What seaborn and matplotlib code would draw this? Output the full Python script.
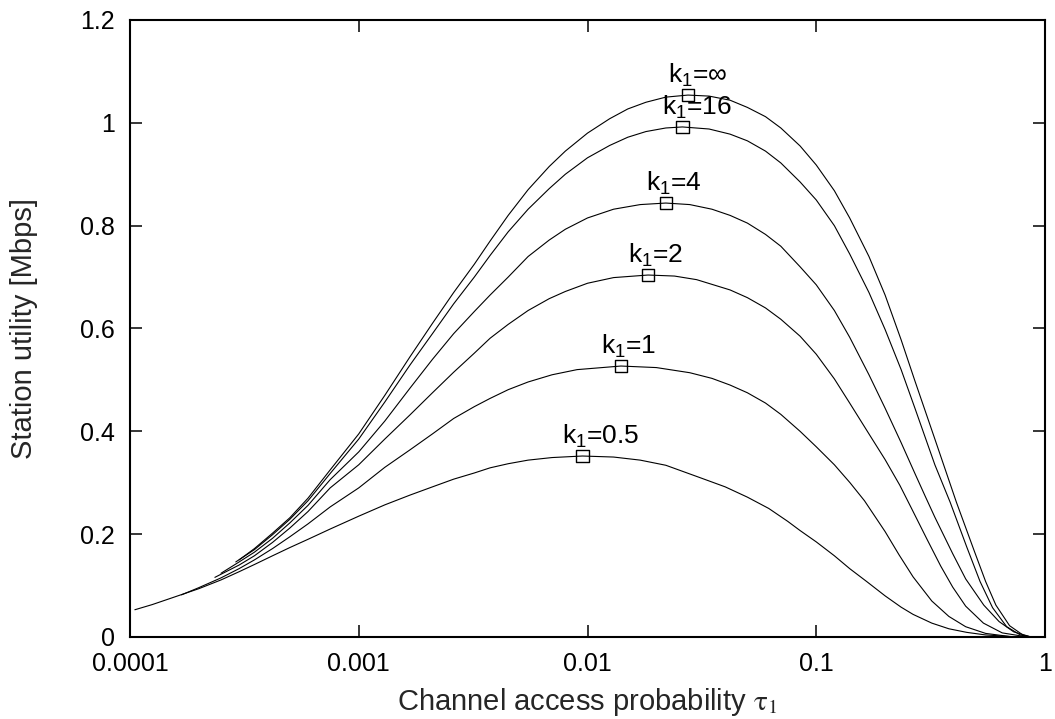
import numpy as np
import pandas as pd
import matplotlib
matplotlib.use("Agg")
import matplotlib.pyplot as plt
import seaborn as sns

# ---------------- data ----------------
k_labels = ["k$_1$=∞", "k$_1$=16", "k$_1$=4", "k$_1$=2", "k$_1$=1", "k$_1$=0.5"]

tau_kinf = [3.0e-4, 3.5e-4, 4.2e-4, 5e-4, 6e-4, 7.5e-4, 1e-3, 1.3e-3, 1.675e-3, 2.1e-3,
            2.6e-3, 3.2e-3, 3.75e-3, 4.5e-3, 5.5e-3, 6.8e-3, 8e-3, 1e-2, 1.25e-2, 1.5e-2,
            1.8e-2, 2.2e-2, 2.75e-2, 3.4e-2, 4.2e-2, 5e-2, 6e-2, 7e-2, 8.5e-2, 0.1,
            0.12, 0.14, 0.17, 0.2, 0.235, 0.27, 0.33, 0.41, 0.49, 0.55, 0.61, 0.7, 0.8, 0.87]
util_kinf = [0.150, 0.172, 0.202, 0.232, 0.270, 0.325, 0.395, 0.47, 0.545, 0.61,
             0.67, 0.725, 0.77, 0.82, 0.87, 0.915, 0.945, 0.98, 1.008, 1.027,
             1.04, 1.05, 1.054, 1.052, 1.044, 1.03, 1.012, 0.99, 0.955, 0.918,
             0.868, 0.815, 0.74, 0.665, 0.578, 0.498, 0.385, 0.262, 0.168, 0.108, 0.062, 0.022, 0.004, 0.0]

tau_k16 = [2.9e-4, 3.5e-4, 4.2e-4, 5e-4, 6e-4, 7.5e-4, 1e-3, 1.3e-3, 1.675e-3, 2.1e-3,
           2.6e-3, 3.2e-3, 3.75e-3, 4.5e-3, 5.5e-3, 6.8e-3, 8e-3, 1e-2, 1.25e-2, 1.5e-2,
           1.8e-2, 2.2e-2, 2.6e-2, 3.4e-2, 4.2e-2, 5e-2, 6e-2, 7e-2, 8.5e-2, 0.1,
           0.12, 0.14, 0.17, 0.2, 0.235, 0.27, 0.33, 0.385, 0.455, 0.52, 0.59, 0.68, 0.78, 0.86]
util_k16 = [0.146, 0.170, 0.199, 0.229, 0.265, 0.318, 0.385, 0.457, 0.529, 0.59,
            0.648, 0.70, 0.742, 0.788, 0.832, 0.872, 0.90, 0.932, 0.956, 0.972,
            0.983, 0.99, 0.992, 0.988, 0.978, 0.965, 0.945, 0.922, 0.885, 0.85,
            0.80, 0.745, 0.67, 0.598, 0.52, 0.445, 0.335, 0.262, 0.175, 0.108, 0.057, 0.02, 0.004, 0.0]

tau_k4 = [2.5e-4, 3e-4, 3.5e-4, 4.2e-4, 5e-4, 6e-4, 7.5e-4, 1e-3, 1.3e-3, 1.675e-3,
          2.1e-3, 2.6e-3, 3.2e-3, 3.75e-3, 4.5e-3, 5.5e-3, 6.8e-3, 8e-3, 1e-2, 1.3e-2,
          1.7e-2, 2.2e-2, 2.8e-2, 3.5e-2, 4.2e-2, 5e-2, 6e-2, 7e-2, 8.5e-2, 0.1,
          0.12, 0.14, 0.17, 0.2, 0.235, 0.27, 0.30, 0.33, 0.395, 0.45, 0.54, 0.63, 0.73, 0.87]
util_k4 = [0.124, 0.146, 0.165, 0.192, 0.222, 0.256, 0.306, 0.36, 0.42, 0.484,
           0.54, 0.59, 0.633, 0.665, 0.70, 0.74, 0.772, 0.793, 0.815, 0.832,
           0.841, 0.844, 0.841, 0.832, 0.82, 0.805, 0.783, 0.76, 0.72, 0.685,
           0.635, 0.583, 0.51, 0.445, 0.378, 0.318, 0.273, 0.233, 0.162, 0.113, 0.062, 0.03, 0.01, 0.0]

tau_k2 = [2.35e-4, 3e-4, 3.5e-4, 4.2e-4, 5e-4, 6e-4, 7.5e-4, 1e-3, 1.3e-3, 1.675e-3,
          2.1e-3, 2.6e-3, 3.2e-3, 3.75e-3, 4.5e-3, 5.5e-3, 6.8e-3, 8e-3, 1e-2, 1.3e-2,
          1.84e-2, 2.4e-2, 3e-2, 4.2e-2, 5e-2, 6e-2, 7e-2, 8.5e-2, 0.1, 0.12,
          0.14, 0.17, 0.2, 0.232, 0.261, 0.305, 0.35, 0.395, 0.45, 0.538, 0.65, 0.84]
util_k2 = [0.116, 0.140, 0.158, 0.184, 0.212, 0.244, 0.290, 0.335, 0.385, 0.432,
           0.475, 0.515, 0.552, 0.581, 0.608, 0.635, 0.658, 0.672, 0.688, 0.699,
           0.704, 0.702, 0.695, 0.675, 0.66, 0.64, 0.618, 0.585, 0.55, 0.502,
           0.455, 0.395, 0.345, 0.295, 0.25, 0.19, 0.138, 0.097, 0.06, 0.027, 0.008, 0.0]

tau_k1 = [1.68e-4, 2e-4, 2.5e-4, 3e-4, 3.5e-4, 4.2e-4, 5e-4, 6e-4, 7.5e-4, 1e-3,
          1.3e-3, 1.675e-3, 2.1e-3, 2.6e-3, 3.2e-3, 3.75e-3, 4.5e-3, 5.5e-3, 7e-3, 9e-3,
          1.4e-2, 2e-2, 2.8e-2, 3.5e-2, 4.2e-2, 5e-2, 6e-2, 7e-2, 8.5e-2, 0.1,
          0.12, 0.1405, 0.1625, 0.2, 0.23, 0.265, 0.32, 0.38, 0.45, 0.55, 0.7, 0.84]
util_k1 = [0.082, 0.096, 0.115, 0.133, 0.150, 0.172, 0.195, 0.220, 0.253, 0.29,
           0.33, 0.364, 0.395, 0.425, 0.448, 0.464, 0.481, 0.496, 0.51, 0.52,
           0.527, 0.524, 0.514, 0.503, 0.49, 0.475, 0.455, 0.433, 0.40, 0.37,
           0.335, 0.30, 0.265, 0.205, 0.16, 0.117, 0.07, 0.04, 0.02, 0.007, 0.001, 0.0]

tau_k05 = [1.05e-4, 1.25e-4, 1.5e-4, 2e-4, 2.5e-4, 3e-4, 3.5e-4, 4.2e-4, 5e-4, 6e-4,
           7.5e-4, 1e-3, 1.3e-3, 1.675e-3, 2.1e-3, 2.6e-3, 3.2e-3, 3.75e-3, 4.5e-3, 5.5e-3,
           7e-3, 9.5e-3, 1.3e-2, 1.7e-2, 2.2e-2, 3.1e-2, 4e-2, 5e-2, 6.2e-2, 7.5e-2,
           8.5e-2, 0.1, 0.12, 0.14, 0.166, 0.2, 0.235, 0.265, 0.32, 0.38, 0.455, 0.55, 0.7, 0.84]
util_k05 = [0.053, 0.063, 0.075, 0.094, 0.111, 0.127, 0.141, 0.158, 0.174, 0.190,
            0.210, 0.235, 0.257, 0.276, 0.292, 0.307, 0.319, 0.329, 0.337, 0.344,
            0.349, 0.352, 0.35, 0.344, 0.334, 0.31, 0.292, 0.272, 0.25, 0.225,
            0.207, 0.185, 0.158, 0.133, 0.108, 0.08, 0.058, 0.044, 0.027, 0.016, 0.009, 0.004, 0.001, 0.0]

peak_tau = [0.0275, 0.026, 0.022, 0.0184, 0.014, 0.0095]
peak_util = [1.054, 0.992, 0.844, 0.704, 0.527, 0.352]

x_ticks = [1e-4, 1e-3, 1e-2, 1e-1, 1]
x_ticklabels = ["0.0001", "0.001", "0.01", "0.1", "1"]
y_ticks = [0, 0.2, 0.4, 0.6, 0.8, 1.0, 1.2]
y_ticklabels = ["0", "0.2", "0.4", "0.6", "0.8", "1", "1.2"]

# ---------------- build table ----------------
series = [(tau_kinf, util_kinf), (tau_k16, util_k16), (tau_k4, util_k4),
          (tau_k2, util_k2), (tau_k1, util_k1), (tau_k05, util_k05)]
frames = []
for lab, (t, u) in zip(k_labels, series):
    frames.append(pd.DataFrame({"tau": t, "util": u, "k": lab}))
df = pd.concat(frames, ignore_index=True)
peaks = pd.DataFrame({"tau": peak_tau, "util": peak_util, "k": k_labels})

# ---------------- style ----------------
sns.set_theme(style="ticks")
plt.rcParams["font.family"] = ["Liberation Sans", "DejaVu Sans"]
plt.rcParams["mathtext.fontset"] = "custom"
plt.rcParams["mathtext.rm"] = "Liberation Sans"
plt.rcParams["mathtext.it"] = "Liberation Sans"
plt.rcParams["mathtext.bf"] = "Liberation Sans:bold"

fig = plt.figure(figsize=(10.55, 7.19), dpi=100)
ax = fig.add_axes([130 / 1055, 82 / 719, 915 / 1055, 617 / 719])

sns.lineplot(data=df, x="tau", y="util", units="k", estimator=None,
             color="black", linewidth=0.8, legend=False, ax=ax)
sns.scatterplot(data=peaks, x="tau", y="util", marker="s", s=80,
                facecolor="none", edgecolor="black", linewidth=1.0,
                legend=False, ax=ax, zorder=5)

for _, row in peaks.iterrows():
    ax.annotate(row["k"], (row["tau"], row["util"]), xytext=(-14.5, 9),
                textcoords="offset points", ha="left", va="baseline",
                fontsize=19, color="black")

ax.set_xscale("log")
ax.set_xlim(1e-4, 1)
ax.set_ylim(0, 1.2)
ax.set_xticks(x_ticks)
ax.set_xticklabels(x_ticklabels)
ax.set_yticks(y_ticks)
ax.set_yticklabels(y_ticklabels)
ax.xaxis.set_minor_locator(matplotlib.ticker.NullLocator())

ax.tick_params(axis="both", which="major", direction="in", length=8.5, width=1.1,
               labelsize=18, pad=11, top=True, right=True, colors="black")
for sp in ax.spines.values():
    sp.set_visible(True)
    sp.set_linewidth(1.5)
    sp.set_color("black")

ax.set_ylabel("Station utility [Mbps]", fontsize=21)
ax.yaxis.set_label_coords(-0.1005, 0.5)
ax.set_xlabel(r"Channel access probability $\mathrm{\tau}_{1}$", fontsize=21,
              math_fontfamily="stix")
ax.xaxis.set_label_coords(0.5, -0.080)

fig.savefig("out.png", dpi=100)
